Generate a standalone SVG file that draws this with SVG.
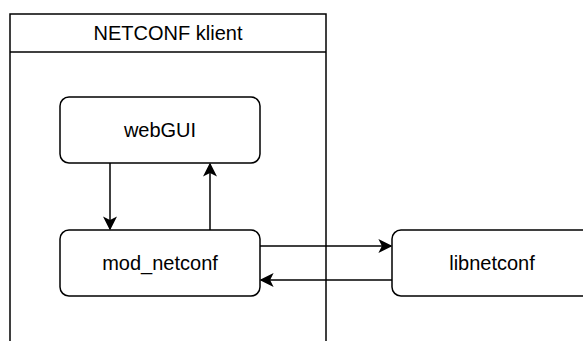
<svg xmlns="http://www.w3.org/2000/svg" width="583" height="341" viewBox="0 0 583 341">
<style>
.box{fill:#fff;stroke:#000;stroke-width:1.5}
.t{font-family:"Liberation Sans",Arial,sans-serif;font-size:20px;fill:#000;text-anchor:middle;dominant-baseline:central}
.c{fill:none;stroke:#000;stroke-width:1.5}
</style>
<defs>
<marker id="a" viewBox="0 0 10 10" refX="9" refY="5" markerWidth="14" markerHeight="14" markerUnits="userSpaceOnUse" orient="auto">
<path d="M0,0 L10,5 L0,10 L2.5,5 Z" fill="#000"/>
</marker>
</defs>
<rect width="583" height="341" fill="#fff"/>
<g id="container">
<rect class="box" x="10" y="14" width="316" height="340"/>
<line class="c" x1="10" y1="52" x2="326" y2="52"/>
<text class="t" x="168" y="33">NETCONF klient</text>
</g>
<g id="webgui">
<rect class="box" x="60" y="97" width="200" height="66" rx="9"/>
<text class="t" x="160" y="130">webGUI</text>
</g>
<g id="mod_netconf">
<rect class="box" x="60" y="230" width="200" height="66" rx="9"/>
<text class="t" x="160" y="263">mod_netconf</text>
</g>
<g id="libnetconf">
<rect class="box" x="392" y="230" width="200" height="66" rx="9"/>
<text class="t" x="492" y="263">libnetconf</text>
</g>
<g id="connectors">
<line class="c" x1="110" y1="163" x2="110" y2="229" marker-end="url(#a)"/>
<line class="c" x1="210" y1="230" x2="210" y2="164" marker-end="url(#a)"/>
<line class="c" x1="260" y1="246" x2="391" y2="246" marker-end="url(#a)"/>
<line class="c" x1="392" y1="280" x2="261" y2="280" marker-end="url(#a)"/>
</g>
</svg>
